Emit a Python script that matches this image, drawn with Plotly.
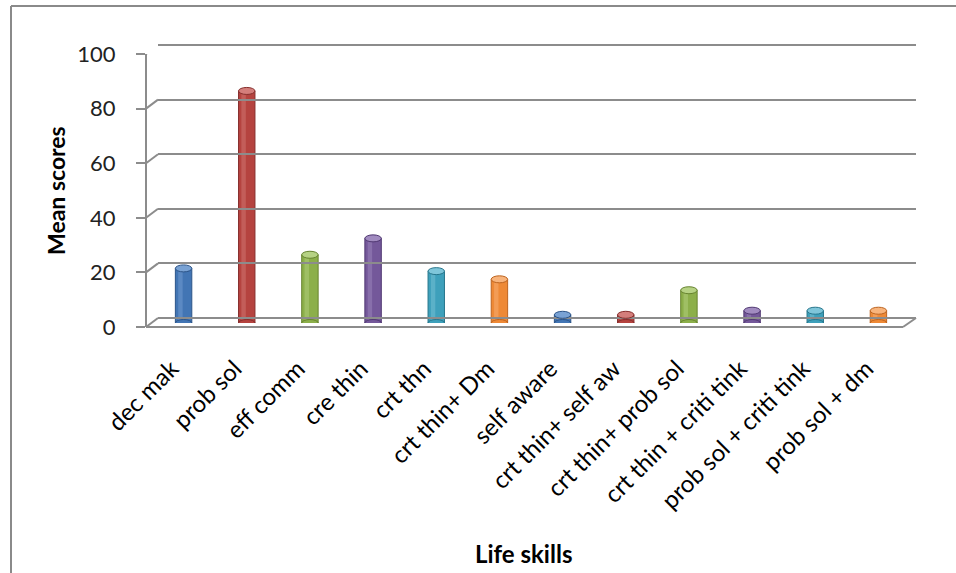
import plotly.graph_objects as go

# ---- data ----
skills = [
    "dec mak", "prob sol", "eff comm", "cre thin", "crt thn", "crt thin+ Dm",
    "self aware", "crt thin+ self aw", "crt thin+ prob sol",
    "crt thin + criti tink", "prob sol + criti tink", "prob sol + dm",
]
mean_scores = [20, 85, 25, 31, 19, 16, 3, 3, 12, 4.5, 4.5, 4.5]
y_ticks = [0, 20, 40, 60, 80, 100]

# Office-style palette, cycled over the bars
base_cols = ["#4275b4", "#b5433f", "#8caf4a", "#74589a", "#3ea0bb", "#ee8936"]
edge_cols = ["#2c5488", "#862e2c", "#66832f", "#503872", "#27768c", "#bd6420"]
lite_cols = ["#79a2d4", "#d47e7b", "#b6d284", "#a18bc0", "#7fc6da", "#f8b47c"]

W, H = 956, 573
FONT = "Lato"
PX_PER_UNIT = 2.73


def px(x):
    return x / W


def py(y):
    return 1 - y / H


n = len(skills)
cols = [base_cols[i % 6] for i in range(n)]
edges = [edge_cols[i % 6] for i in range(n)]
lites = [lite_cols[i % 6] for i in range(n)]

fig = go.Figure()

# cylinder bodies
fig.add_trace(go.Bar(
    x=skills, y=mean_scores, width=0.26,
    marker=dict(color=cols, line=dict(color=edges, width=1)),
    xaxis="x", yaxis="y", hoverinfo="x+y", showlegend=False,
))
# soft highlight band on each cylinder
fig.add_trace(go.Bar(
    x=skills, y=mean_scores, width=0.07, offset=-0.085,
    marker=dict(color=lites, opacity=0.45, line=dict(width=0)),
    xaxis="x", yaxis="y", hoverinfo="skip", showlegend=False,
))
# category labels sit on the front edge of the floor, a little left of the bars
fig.add_trace(go.Scatter(x=skills, y=[None] * n, xaxis="x3", yaxis="y",
                         showlegend=False, hoverinfo="skip"))
# carrier traces so the back wall and the front value axis get drawn
fig.add_trace(go.Scatter(x=[None], y=[None], xaxis="x2", yaxis="y2",
                         showlegend=False, hoverinfo="skip"))
fig.add_trace(go.Scatter(x=[None], y=[None], xaxis="x2", yaxis="y3",
                         showlegend=False, hoverinfo="skip"))

shapes = []
# rounded base and top caps of the cylinders
for i, v in enumerate(mean_scores):
    shapes.append(dict(type="circle", xref="x", yref="y",
                       x0=i - 0.13, x1=i + 0.13,
                       ysizemode="pixel", yanchor=0, y0=-3.5, y1=3.5,
                       fillcolor=cols[i], line=dict(color=edges[i], width=1),
                       layer="above"))
    shapes.append(dict(type="circle", xref="x", yref="y",
                       x0=i - 0.13, x1=i + 0.13,
                       ysizemode="pixel", yanchor=v, y0=-3.5, y1=3.5,
                       fillcolor=lites[i], line=dict(color=edges[i], width=1),
                       layer="above"))

GRID = "#8c8c8c"
# depth connectors from the front axis ticks to the back wall
for t in y_ticks:
    shapes.append(dict(type="line", xref="paper", yref="y3",
                       x0=px(146), x1=px(158),
                       ysizemode="pixel", yanchor=t, y0=0, y1=9,
                       line=dict(color=GRID, width=2), layer="below"))
# floor: front edge and right side
shapes.append(dict(type="line", xref="paper", yref="paper",
                   x0=px(146), x1=px(903), y0=py(327), y1=py(327),
                   line=dict(color=GRID, width=2), layer="below"))
shapes.append(dict(type="line", xref="paper", yref="paper",
                   x0=px(903), x1=px(916), y0=py(327), y1=py(318),
                   line=dict(color=GRID, width=2), layer="below"))
# chart-area frame (left and top edges)
shapes.append(dict(type="line", xref="paper", yref="paper",
                   x0=px(11), x1=px(11), y0=py(6), y1=0,
                   line=dict(color="#8a8a8a", width=2)))
shapes.append(dict(type="line", xref="paper", yref="paper",
                   x0=px(11), x1=1, y0=py(6), y1=py(6),
                   line=dict(color="#8a8a8a", width=2)))

# back wall spans one extra unit on each side so the 0 and 100 grids draw
wall_bottom = 318 + PX_PER_UNIT
wall_top = 45 - PX_PER_UNIT

fig.update_layout(
    width=W, height=H, autosize=False,
    margin=dict(l=0, r=0, t=0, b=0, pad=0, autoexpand=False),
    paper_bgcolor="white", plot_bgcolor="rgba(0,0,0,0)",
    barmode="overlay",
    font=dict(family=FONT, color="#000000"),
    shapes=shapes,
    # bars
    xaxis=dict(domain=[px(152), px(910)], range=[-0.5, n - 0.5],
               anchor="y", visible=False, automargin=False),
    yaxis=dict(domain=[py(323), py(50)], range=[0, 100], visible=False,
               automargin=False),
    # category labels
    xaxis3=dict(domain=[px(140), px(898)], range=[-0.5, n - 0.5],
                anchor="y", showgrid=False, zeroline=False,
                showline=False, ticks="", tickangle=-45,
                tickfont=dict(size=24, family=FONT),
                ticklabelstandoff=26, automargin=False),
    # back wall with gridlines
    xaxis2=dict(domain=[px(158), px(916)], range=[0, 1], anchor="y2",
                visible=False, automargin=False),
    yaxis2=dict(domain=[py(wall_bottom), py(wall_top)], range=[-1, 101],
                anchor="x2", tickvals=y_ticks, showgrid=True, gridcolor=GRID,
                gridwidth=2, showticklabels=False, zeroline=False,
                showline=False, ticks="", automargin=False),
    # front value axis
    yaxis3=dict(domain=[py(327), py(54)], range=[0, 100], anchor="free",
                position=px(146), tickvals=y_ticks, ticks="outside",
                ticklen=9, tickwidth=2, tickcolor=GRID, showline=True,
                linecolor=GRID, linewidth=2, showgrid=False, zeroline=False,
                tickfont=dict(size=22, family=FONT, color="#222"),
                ticklabelstandoff=16, automargin=False),
    annotations=[
        dict(text="<b>Mean scores</b>", xref="paper", yref="paper",
             x=px(56), y=py(191), xanchor="center", yanchor="middle",
             textangle=-90, showarrow=False,
             font=dict(size=23, family=FONT)),
        dict(text="<b>Life skills</b>", xref="paper", yref="paper",
             x=px(523), y=py(553), xanchor="center", yanchor="middle",
             showarrow=False, font=dict(size=24, family=FONT)),
    ],
)

fig.write_html("out.html")
